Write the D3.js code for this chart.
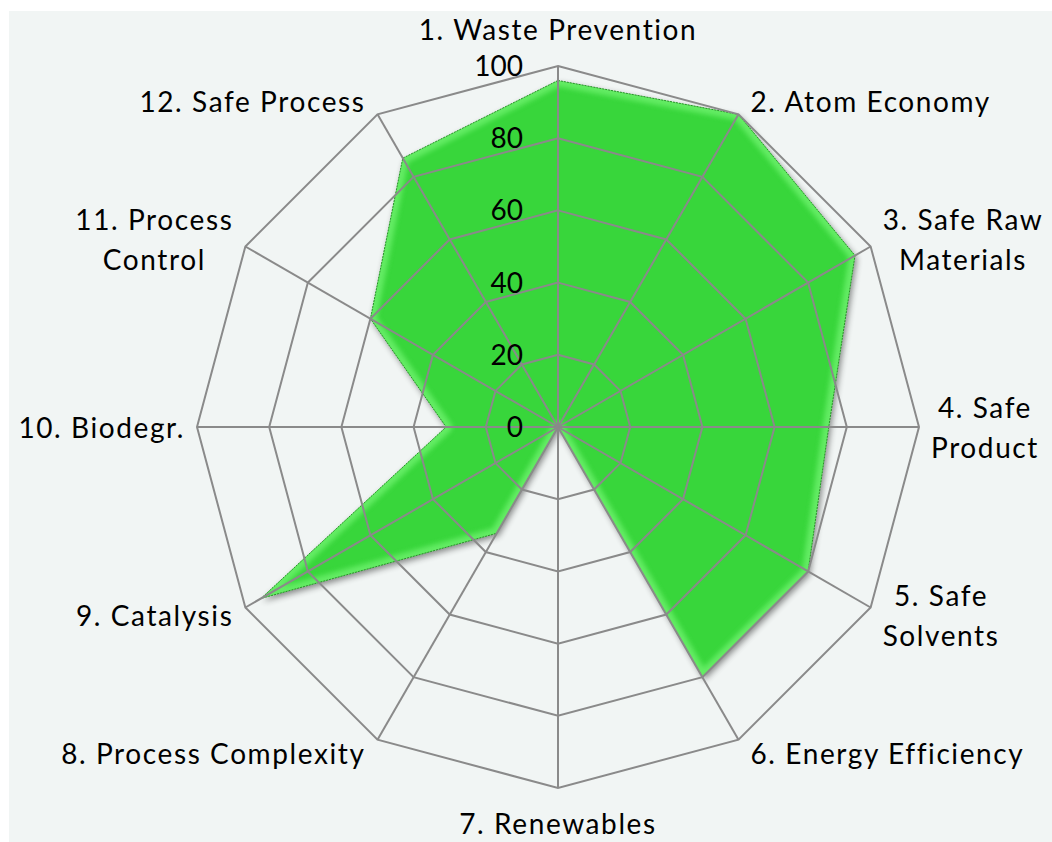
<!DOCTYPE html>
<html>
<head>
<meta charset="utf-8">
<script src="https://cdn.jsdelivr.net/npm/d3@7"></script>
<style>
  html, body { margin: 0; padding: 0; background: #ffffff; }
  svg { display: block; }
  text { font-family: Lato, "Liberation Sans", sans-serif; fill: #000; }
</style>
</head>
<body>
<div id="chart"></div>
<script>
// chart values
var labelLines = [
  ["1. Waste Prevention"],
  ["2. Atom Economy"],
  ["3. Safe Raw", "Materials"],
  ["4. Safe", "Product"],
  ["5. Safe", "Solvents"],
  ["6. Energy Efficiency"],
  ["7. Renewables"],
  ["8. Process Complexity"],
  ["9. Catalysis"],
  ["10. Biodegr."],
  ["11. Process", "Control"],
  ["12. Safe Process"]
];
var scores = [96, 100, 95, 75, 80, 80, 0, 34, 95, 31, 60, 86];
var tickValues = [0, 20, 40, 60, 80, 100];

var width = 1052,
    height = 842,
    cx = 558,
    cy = 427,
    R = 361,
    n = labelLines.length;

var svg = d3.select("#chart").append("svg")
  .attr("width", width)
  .attr("height", height);

var defs = svg.append("defs");

var shadow = defs.append("filter").attr("id", "shadow")
  .attr("x", "-10%").attr("y", "-10%").attr("width", "120%").attr("height", "120%");
shadow.append("feGaussianBlur").attr("in", "SourceAlpha").attr("stdDeviation", 3).attr("result", "blur");
shadow.append("feOffset").attr("in", "blur").attr("dx", 2).attr("dy", 3).attr("result", "off");
shadow.append("feComponentTransfer").attr("in", "off").attr("result", "soft")
  .append("feFuncA").attr("type", "linear").attr("slope", 0.45);
var merge = shadow.append("feMerge");
merge.append("feMergeNode").attr("in", "soft");
merge.append("feMergeNode").attr("in", "SourceGraphic");

var glow = defs.append("filter").attr("id", "soft");
glow.append("feGaussianBlur").attr("stdDeviation", 2.5);

// background
svg.append("rect")
  .attr("x", 9).attr("y", 11)
  .attr("width", width - 9).attr("height", height - 11)
  .attr("fill", "#f1f5f4");

var r = d3.scaleLinear().domain([0, 100]).range([0, R]);
var angle = function(i) { return i * 2 * Math.PI / n; };

var radar = d3.lineRadial()
  .angle(function(d, i) { return angle(i); })
  .radius(function(d) { return r(d); })
  .curve(d3.curveLinearClosed);

var g = svg.append("g").attr("transform", "translate(" + cx + "," + cy + ")");

// data area
defs.append("clipPath").attr("id", "areaClip")
  .append("path").attr("d", radar(scores));

g.append("path")
  .attr("d", radar(scores))
  .attr("fill", "#38d63a")
  .attr("filter", "url(#shadow)");

g.append("path")
  .attr("d", radar(scores))
  .attr("fill", "none")
  .attr("stroke", "#6ef26e")
  .attr("stroke-width", 12)
  .attr("stroke-linejoin", "round")
  .attr("clip-path", "url(#areaClip)")
  .attr("filter", "url(#soft)")
  .attr("opacity", 0.8);

g.append("path")
  .attr("d", radar(scores))
  .attr("fill", "none")
  .attr("stroke", "#2c8f2c")
  .attr("stroke-width", 1)
  .attr("stroke-dasharray", "2,1");

// grid rings
g.selectAll(".ring")
  .data(tickValues.filter(function(t) { return t > 0; }))
  .enter().append("path")
  .attr("class", "ring")
  .attr("d", function(t) { return radar(d3.range(n).map(function() { return t; })); })
  .attr("fill", "none")
  .attr("stroke", "#8a8a8a")
  .attr("stroke-width", 2);

// spokes
g.selectAll(".spoke")
  .data(d3.range(n))
  .enter().append("line")
  .attr("class", "spoke")
  .attr("x1", 0).attr("y1", 0)
  .attr("x2", function(i) { return r(100) * Math.sin(angle(i)); })
  .attr("y2", function(i) { return -r(100) * Math.cos(angle(i)); })
  .attr("stroke", "#8a8a8a")
  .attr("stroke-width", 2);

// tick labels
g.selectAll(".tick")
  .data(tickValues)
  .enter().append("text")
  .attr("class", "tick")
  .attr("x", -35)
  .attr("y", function(t) { return -r(t); })
  .attr("dy", "0.36em")
  .attr("text-anchor", "end")
  .style("font-size", "28px")
  .text(function(t) { return t; });

// category labels
var lineH = 40;
labelLines.forEach(function(lines, i) {
  var a = angle(i),
      s = Math.sin(a),
      c = Math.cos(a),
      vx = r(100) * s,
      vy = -r(100) * c;

  var t = g.append("text")
    .attr("text-anchor", "middle")
    .style("font-size", "28px")
    .style("letter-spacing", "1.6px");
  lines.forEach(function(line, k) {
    t.append("tspan").attr("x", 0).attr("y", k * lineH).text(line);
  });

  var b = t.node().getBBox(), tx, ty;
  if (Math.abs(s) < 0.01) {
    tx = vx - (b.x + b.width / 2);
    if (c > 0) ty = (vy - 20) - (b.y + b.height);
    else ty = (vy + 18) - b.y;
  } else {
    if (s > 0) tx = (vx + 12) - b.x;
    else tx = (vx - 12) - (b.x + b.width);
    ty = (vy - c * 15) - (b.y + b.height / 2);
  }
  t.attr("transform", "translate(" + tx + "," + ty + ")");
});
</script>
</body>
</html>
